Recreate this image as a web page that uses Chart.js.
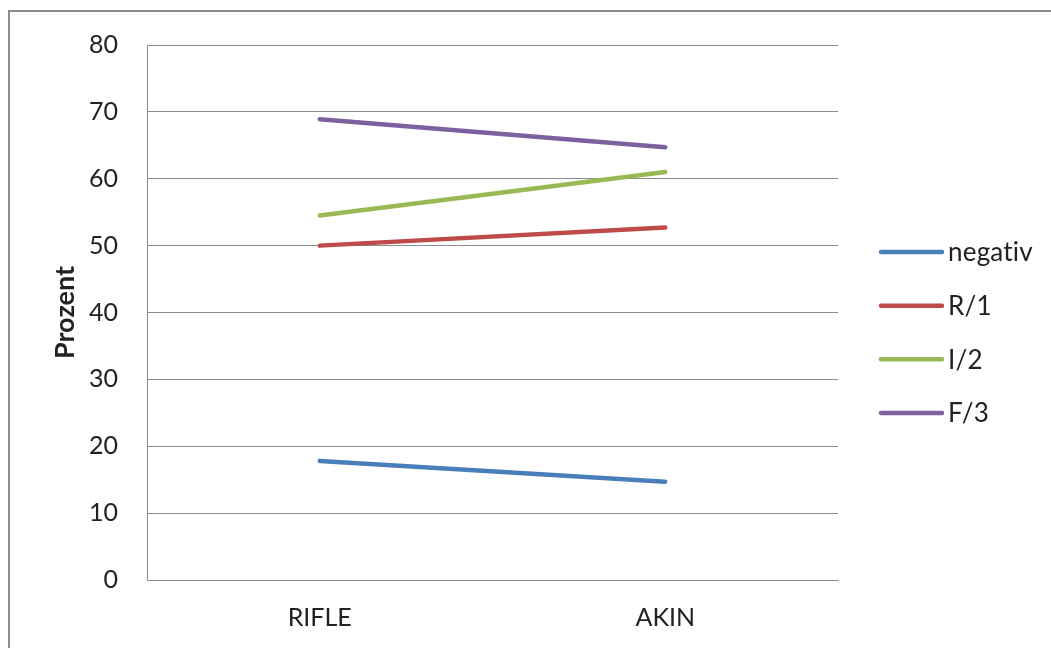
<!DOCTYPE html>
<html>
<head>
<meta charset="utf-8">
<script src="https://cdn.jsdelivr.net/npm/chart.js@4.4.1/dist/chart.umd.min.js"></script>
<style>
  html, body { margin: 0; padding: 0; background: #fff; overflow: hidden; }
  #wrap { position: relative; width: 1051px; height: 648px; }
  #frame { position: absolute; left: 8px; top: 10px; width: 1100px; height: 700px;
           border-left: 2px solid #8c8c8c; border-top: 2px solid #8c8c8c; pointer-events: none; }
  canvas { position: absolute; left: 0; top: 0; }
</style>
</head>
<body>
<div id="wrap">
  <canvas id="c" width="1051" height="648"></canvas>
  <div id="frame"></div>
</div>
<script>
// Categories and series (percent)
const categories = ['RIFLE', 'AKIN'];
const negativ = [17.8, 14.7];
const r1 = [50.0, 52.7];
const i2 = [54.5, 61.0];
const f3 = [68.9, 64.7];
const seriesNames = ['negativ', 'R/1', 'I/2', 'F/3'];
const yMin = 0, yMax = 80, yStep = 10;

const FONT = "Lato, 'Liberation Sans', sans-serif";
const TEXT = '#222222';
const GRID = '#8c8c8c';

// Legend drawn as a vertical list to the right of the plot area
const sideLegend = {
  id: 'sideLegend',
  afterDraw(chart) {
    const { ctx, chartArea } = chart;
    const sets = chart.data.datasets;
    const x0 = chartArea.right + 43, x1 = chartArea.right + 104, tx = chartArea.right + 110;
    const gap = 53.7;
    const yc = 332.5 - gap * (sets.length - 1) / 2;
    ctx.save();
    ctx.font = '26px ' + FONT;
    ctx.textBaseline = 'middle';
    ctx.textAlign = 'left';
    // keep "t" and "i" as separate glyphs
    if ('textRendering' in ctx) ctx.textRendering = 'optimizeSpeed';
    if ('letterSpacing' in ctx) ctx.letterSpacing = '0.2px';
    sets.forEach((ds, i) => {
      const y = yc + i * gap;
      ctx.strokeStyle = ds.borderColor;
      ctx.lineWidth = ds.borderWidth;
      ctx.lineCap = 'round';
      ctx.beginPath();
      ctx.moveTo(x0, y);
      ctx.lineTo(x1, y);
      ctx.stroke();
      ctx.fillStyle = TEXT;
      ctx.fillText(ds.label, tx, y + 1);
    });
    ctx.restore();
  }
};

const colors = ['#4a7ebb', '#be4b48', '#98b954', '#7d60a0'];
const values = [negativ, r1, i2, f3];

new Chart(document.getElementById('c'), {
  type: 'line',
  data: {
    labels: categories,
    datasets: values.map((v, i) => ({
      label: seriesNames[i],
      data: v,
      borderColor: colors[i],
      backgroundColor: colors[i],
      borderWidth: 4.5,
      borderCapStyle: 'round',
      pointRadius: 0,
      tension: 0,
      fill: false
    }))
  },
  options: {
    responsive: false,
    animation: false,
    layout: { padding: { top: 45, right: 213, left: 0, bottom: 0 } },
    plugins: { legend: { display: false }, tooltip: { enabled: false } },
    scales: {
      x: {
        offset: true,
        grid: { display: false, drawTicks: false },
        border: { display: true, color: GRID, width: 1 },
        ticks: { color: TEXT, font: { family: FONT, size: 25 }, padding: 23, maxRotation: 0 },
        afterFit(scale) { scale.height = 68; }
      },
      y: {
        min: yMin,
        max: yMax,
        ticks: { stepSize: yStep, color: TEXT, font: { family: FONT, size: 25 }, padding: 29 },
        grid: { color: GRID, lineWidth: 1, drawTicks: false },
        border: { display: true, color: GRID, width: 1 },
        title: {
          display: true,
          text: 'Prozent',
          color: TEXT,
          font: { family: FONT, size: 27, weight: 'bold' },
          padding: { top: 49, bottom: 0 }
        },
        afterFit(scale) { scale.width = 147; }
      }
    }
  },
  plugins: [sideLegend]
});
</script>
</body>
</html>
